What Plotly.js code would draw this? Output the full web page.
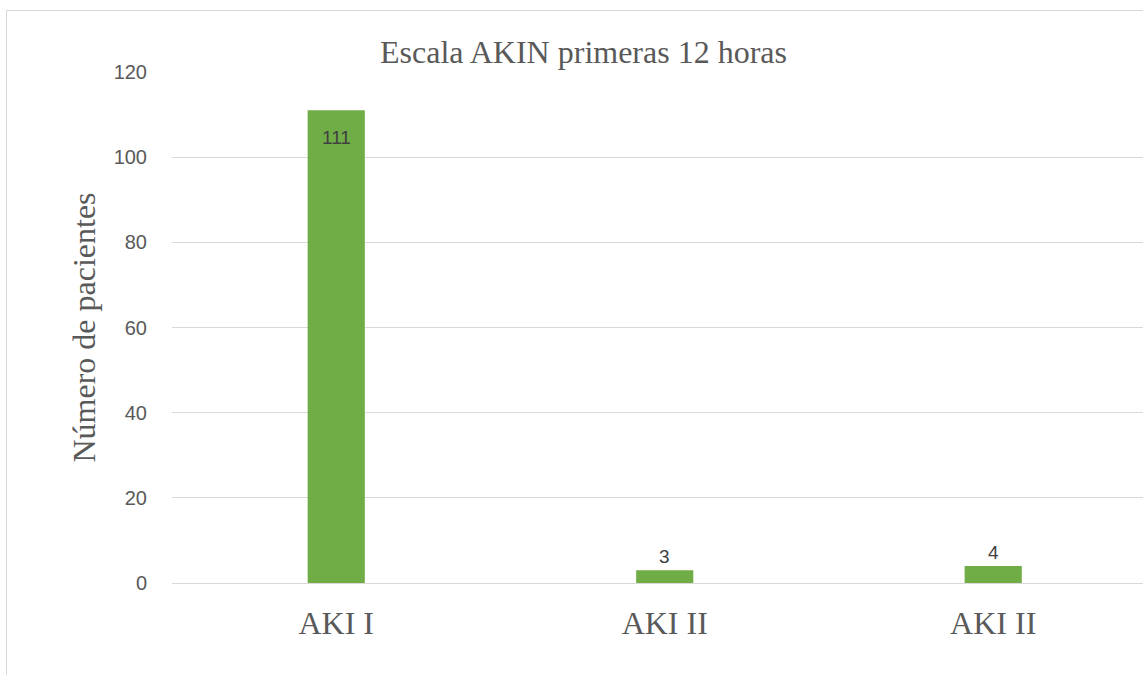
<!DOCTYPE html>
<html>
<head>
<meta charset="utf-8">
<script src="https://cdn.plot.ly/plotly-3.0.1.min.js"></script>
<style>
html,body{margin:0;padding:0;overflow:hidden;background:#fff;}
#frame{position:absolute;left:6px;top:10px;width:1300px;height:800px;border:1px solid #d9d9d9;box-sizing:border-box;}
#chart{position:absolute;left:0;top:0;width:1143px;height:675px;}
</style>
</head>
<body>
<div id="frame"></div>
<div id="chart"></div>
<script>
const categories = ["AKI I", "AKI II", "AKI II"];
const values = [111, 3, 4];
const yTicks = [0, 20, 40, 60, 80, 100, 120];

const positions = categories.map((c, i) => i);

const annotations = values.map((v, i) => ({
  x: positions[i], y: v, xref: 'x', yref: 'y',
  text: String(v), showarrow: false,
  yanchor: i === 0 ? 'top' : 'bottom',
  yshift: i === 0 ? -15 : 1,
  font: {family: 'Liberation Sans, Arial, sans-serif', size: 19, color: '#404040'}
}));
annotations.push({
  xref: 'paper', yref: 'paper', x: 0.4243, y: 1, yanchor: 'bottom', yshift: 0,
  text: 'Escala AKIN primeras 12 horas', showarrow: false,
  font: {family: 'Liberation Serif, Times New Roman, serif', size: 32, color: '#595959'}
});

const trace = {
  type: 'bar',
  x: positions,
  y: values,
  width: 0.174,
  marker: {color: '#70AD47'},
  hoverinfo: 'none'
};

const layout = {
  width: 1143, height: 675,
  margin: {l: 172, r: 0, t: 72, b: 92, pad: 0},
  paper_bgcolor: 'rgba(0,0,0,0)',
  plot_bgcolor: 'rgba(0,0,0,0)',
  showlegend: false,
  xaxis: {
    range: [-0.5, 2.456],
    tickvals: positions,
    ticktext: categories,
    tickfont: {family: 'Liberation Serif, Times New Roman, serif', size: 32, color: '#595959'},
    showgrid: false, zeroline: false,
    showline: true, linecolor: '#d9d9d9', linewidth: 1,
    ticks: '', ticklabelstandoff: 12,
    fixedrange: true
  },
  yaxis: {
    range: [0, 120],
    tickvals: yTicks,
    tickfont: {family: 'Liberation Sans, Arial, sans-serif', size: 20, color: '#595959'},
    showgrid: true, gridcolor: '#d9d9d9', gridwidth: 1,
    zeroline: false, showline: false,
    ticks: '', ticklabelstandoff: 24,
    title: {text: 'Número de pacientes', standoff: 8,
      font: {family: 'Liberation Serif, Times New Roman, serif', size: 32, color: '#595959'}},
    fixedrange: true
  },
  annotations: annotations
};

Plotly.newPlot('chart', [trace], layout, {displayModeBar: false, staticPlot: true});
</script>
</body>
</html>
